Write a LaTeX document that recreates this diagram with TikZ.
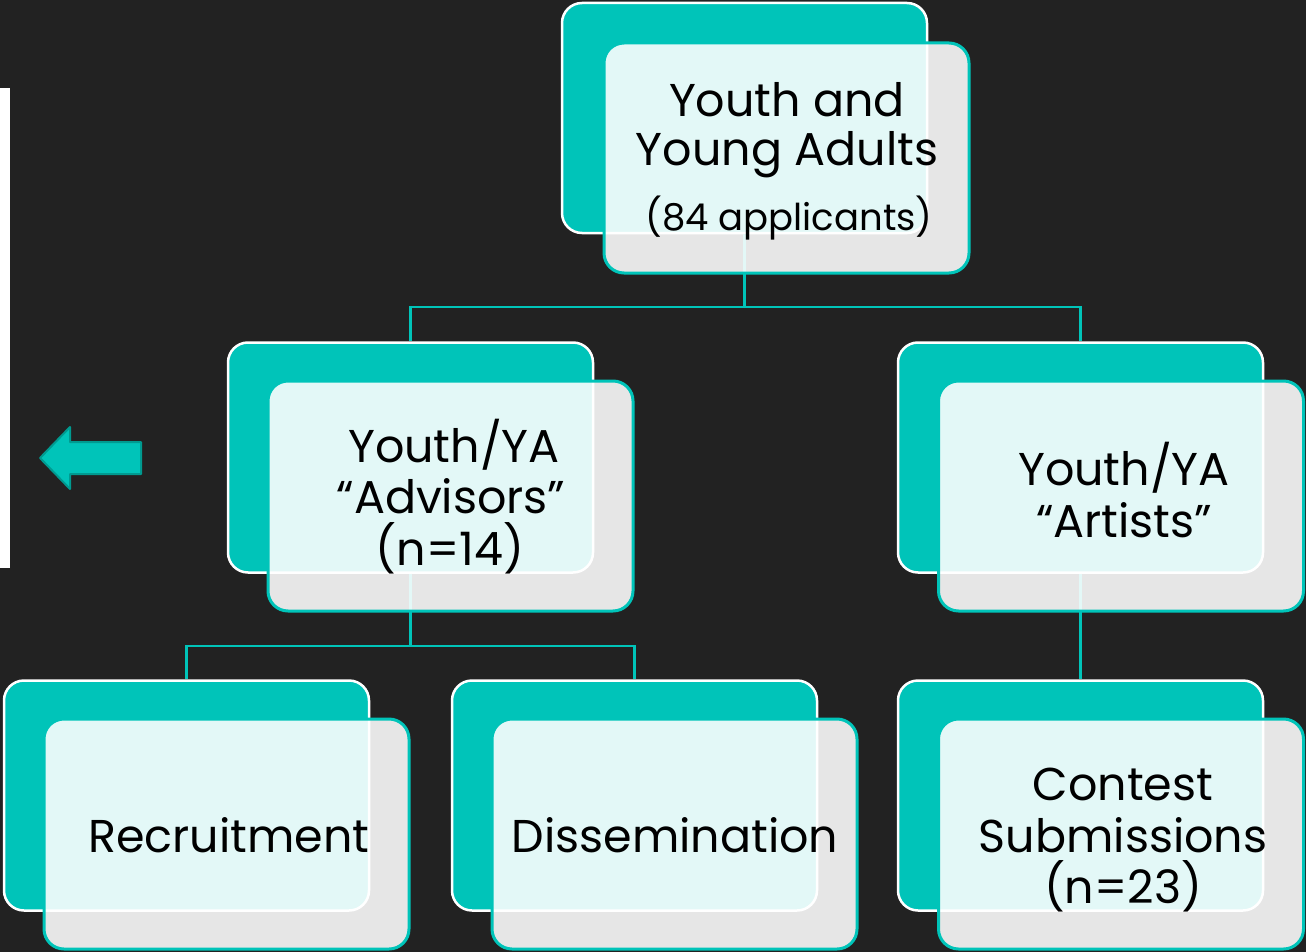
\documentclass[tikz,border=0pt]{standalone}
\usepackage{fontspec}
\setmainfont{Poppins}
\definecolor{bg}{HTML}{222222}
\definecolor{tealfill}{HTML}{00C4B9}
\definecolor{tealdark}{HTML}{009A90}
\tikzset{
  backbox/.style={draw=white, line width=2.5pt, fill=tealfill, rounded corners=20pt,
    minimum width=365pt, minimum height=230pt, inner sep=0pt},
  frontbox/.style={draw=tealfill, line width=3pt, fill=white, fill opacity=0.89,
    rounded corners=20pt, minimum width=365pt, minimum height=230pt, inner sep=0pt},
  conn/.style={draw=tealfill, line width=2.5pt},
  boxtext/.style={text=black, inner sep=0pt, anchor=base, font=\fontsize{46}{51}\selectfont},
  smalltext/.style={text=black, inner sep=0pt, anchor=base, font=\fontsize{37}{44}\selectfont}
}
\begin{document}
\begin{tikzpicture}[x=1pt, y=-1pt]
  \fill[bg] (0,0) rectangle (1306,952);
  \useasboundingbox (0,0) rectangle (1306,952);

  % left bar and arrow
  \fill[white] (0,88) rectangle (10,568);
  \draw[fill=tealfill, draw=tealdark, line width=2pt, line join=round]
    (40,458) -- (70,427) -- (70,442) -- (141,442) -- (141,474) -- (70,474) -- (70,489) -- cycle;

  % back boxes
  \node[backbox] (topb) at (744.5,118) {};
  \node[backbox] (advb) at (410.5,457.5) {};
  \node[backbox] (artb) at (1080.5,457.5) {};
  \node[backbox] (recb) at (186.5,795.5) {};
  \node[backbox] (disb) at (634.5,795.5) {};
  \node[backbox] (conb) at (1080.5,795.5) {};

  % connectors
  \coordinate (j1) at (0,307);
  \coordinate (j2) at (0,646);
  \draw[conn] (topb.south) -- (topb.south |- j1) -| (advb.north);
  \draw[conn] (topb.south |- j1) -| (artb.north);
  \draw[conn] (advb.south) -- (advb.south |- j2) -| (recb.north);
  \draw[conn] (advb.south |- j2) -| (disb.north);
  \draw[conn] (artb.south) -- (conb.north);

  % front boxes
  \node[frontbox] (topf) at (786.5,158) {};
  \node[frontbox] (advf) at (450.5,496) {};
  \node[frontbox] (artf) at (1121,496) {};
  \node[frontbox] (recf) at (226.5,834) {};
  \node[frontbox] (disf) at (674.5,834) {};
  \node[frontbox] (conf) at (1121,834) {};

  % texts
  \node[boxtext] (t1a) at (787,117) {Youth and};
  \node[boxtext] (t1b) at (787,166) {Young Adults};
  \node[smalltext] (t1c) at (789,230) {(84 applicants)};

  \node[boxtext] (t2a) at (454,462) {Youth/YA};
  \node[boxtext] (t2b) at (451,513) {“Advisors”};
  \node[boxtext] (t2c) at (450,565) {(n=14)};

  \node[boxtext] (t3a) at (1124,485) {Youth/YA};
  \node[boxtext] (t3b) at (1124,537) {“Artists”};

  \node[boxtext] (t4) at (229,852) {Recruitment};
  \node[boxtext] (t5) at (675,852) {Dissemination};

  \node[boxtext] (t6a) at (1123,800) {Contest};
  \node[boxtext] (t6b) at (1123,852) {Submissions};
  \node[boxtext] (t6c) at (1123,903) {(n=23)};
\end{tikzpicture}
\end{document}
